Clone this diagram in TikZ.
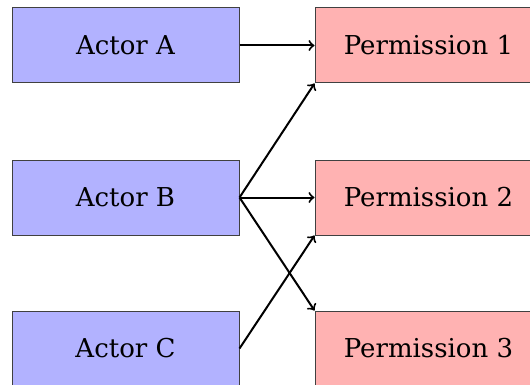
\documentclass[tikz,border=0pt]{standalone}
\usepackage{fontspec}
\setmainfont{DejaVu Serif}
\begin{document}
\begin{tikzpicture}[x=0.5pt,y=-0.5pt,
  box/.style={draw=black!75, line width=0.5pt, minimum width=113.5pt, minimum height=37.5pt, inner sep=0pt, font=\fontsize{13}{15}\selectfont},
  actor/.style={box, fill=blue!30},
  perm/.style={box, fill=red!30},
  link/.style={->, line width=1pt}]
\useasboundingbox (0,0) rectangle (530,385);
\clip (0,0) rectangle (530,385);
\node[actor] (a) at (125.5,45.5) {Actor A};
\node[actor] (b) at (125.5,197.5) {Actor B};
\node[actor] (c) at (125.5,348.5) {Actor C};
\node[perm] (p1) at (428.5,45.5) {Permission 1};
\node[perm] (p2) at (428.5,197.5) {Permission 2};
\node[perm] (p3) at (428.5,348.5) {Permission 3};
\draw[link] (a.east) -- (p1.west);
\draw[link] (b.east) -- (p1.south west);
\draw[link] (b.east) -- (p2.west);
\draw[link] (b.east) -- (p3.north west);
\draw[link] (c.east) -- (p2.south west);
\end{tikzpicture}
\end{document}
